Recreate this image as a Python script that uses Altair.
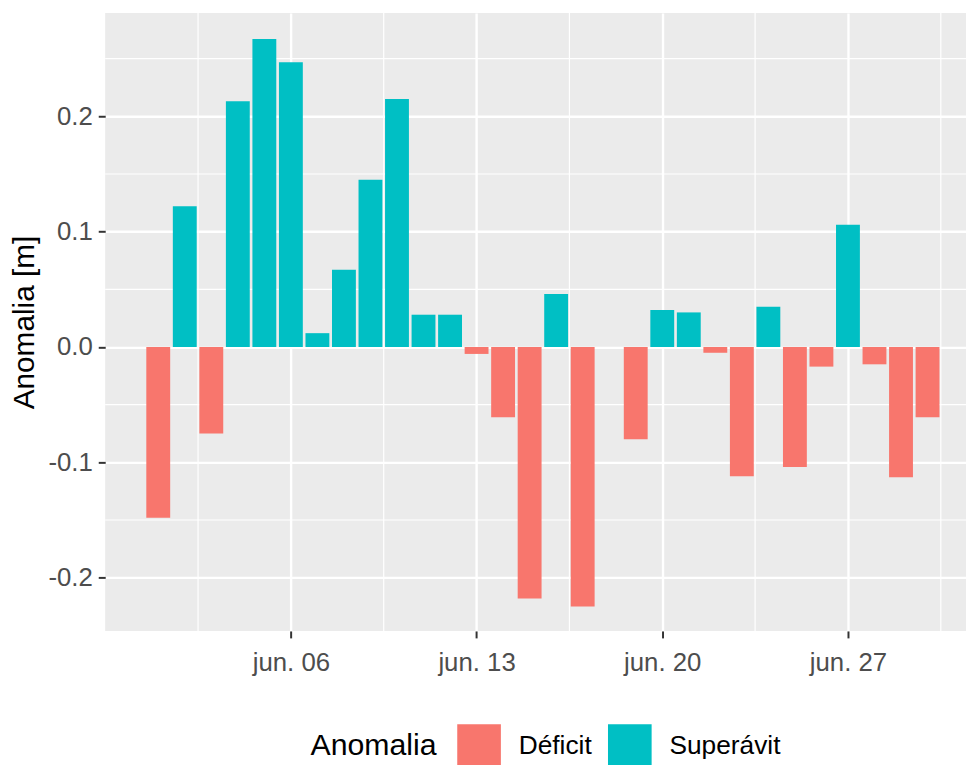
import altair as alt
import pandas as pd

# Day of June and anomaly (m); 18 June has no value in the chart
days = [1, 2, 3, 4, 5, 6, 7, 8, 9, 10, 11, 12, 13, 14, 15, 16, 17,
        19, 20, 21, 22, 23, 24, 25, 26, 27, 28, 29, 30]
anomalies = [-0.148, 0.122, -0.075, 0.213, 0.267, 0.247, 0.012, 0.067, 0.145,
             0.215, 0.028, 0.028, -0.006, -0.061, -0.218, 0.046, -0.225,
             -0.080, 0.032, 0.030, -0.005, -0.112, 0.035, -0.104, -0.017,
             0.106, -0.015, -0.113, -0.061]
categories = ["Déficit", "Superávit"]
colors = ["#F8766D", "#00BFC4"]

x_ticks = [6, 13, 20, 27]
y_ticks = [-0.2, -0.1, 0.0, 0.1, 0.2]
x_minor = [2.5, 9.5, 16.5, 23.5, 30.5]
y_minor = [-0.15, -0.05, 0.05, 0.15, 0.25]

df = pd.DataFrame({
    "day": days,
    "anomalia": anomalies,
    "Anomalia": [categories[0] if v < 0 else categories[1] for v in anomalies],
})
df_xm = pd.DataFrame({"xm": x_minor})
df_ym = pd.DataFrame({"ym": y_minor})

FONT = "Liberation Sans"
xscale = alt.Scale(domain=[-1.0, 31.45], nice=False, zero=False)
yscale = alt.Scale(domain=[-0.2462, 0.2895], nice=False, zero=False)

xaxis = alt.Axis(values=x_ticks, title=None,
                 labelExpr="'jun. ' + (datum.value < 10 ? '0' : '') + datum.value",
                 grid=True, gridColor="white", gridWidth=2.4,
                 tickSize=7, tickColor="#333333", tickWidth=2,
                 labelFontSize=26, labelColor="#4D4D4D", labelFont=FONT,
                 labelPadding=12, domain=False)
yaxis = alt.Axis(values=y_ticks, title="Anomalia [m]",
                 labelExpr="(datum.value < 0 ? '-' : '') + format(abs(datum.value), '.1f')",
                 grid=True, gridColor="white", gridWidth=2.4,
                 tickSize=7, tickColor="#333333", tickWidth=2,
                 labelFontSize=26, labelColor="#4D4D4D", labelFont=FONT,
                 labelPadding=6, domain=False,
                 titleFontSize=30, titleFont=FONT, titleColor="#000000",
                 titleFontWeight="normal", titlePadding=8)

vminor = alt.Chart(df_xm).mark_rule(color="white", strokeWidth=1.2).encode(
    x=alt.X("xm:Q", scale=xscale, axis=xaxis)
)
hminor = alt.Chart(df_ym).mark_rule(color="white", strokeWidth=1.2).encode(
    y=alt.Y("ym:Q", scale=yscale, axis=yaxis)
)

bars = alt.Chart(df).transform_calculate(
    x0="datum.day - 0.45", x1="datum.day + 0.45"
).mark_bar(strokeWidth=0).encode(
    x=alt.X("x0:Q", scale=xscale, axis=xaxis),
    x2="x1:Q",
    y=alt.Y("anomalia:Q", scale=yscale, axis=yaxis),
    y2=alt.datum(0),
    color=alt.Color("Anomalia:N",
                    scale=alt.Scale(domain=categories, range=colors),
                    legend=alt.Legend(orient="none", legendX=207, legendY=717,
                                      direction="horizontal",
                                      title="Anomalia", titleOrient="left",
                                      titleFontSize=30.5, titleFont=FONT,
                                      titleColor="#000000", titleFontWeight="normal",
                                      titlePadding=20, titleBaseline="middle",
                                      symbolType="square", symbolSize=1936,
                                      symbolStrokeWidth=0, symbolOpacity=1,
                                      labelFontSize=26.5, labelFont=FONT,
                                      labelColor="#000000", labelOffset=18,
                                      columnPadding=16, padding=0)),
)

chart = alt.layer(vminor, hminor, bars).properties(
    width=868, height=623,
    autosize=alt.AutoSizeParams(type="none"),
    padding={"left": 98, "top": 2, "right": 0, "bottom": 132},
    background="white",
).configure_view(fill="#EBEBEB", stroke=None)

chart.save("out.html", embed_options={"renderer": "svg", "actions": False})
